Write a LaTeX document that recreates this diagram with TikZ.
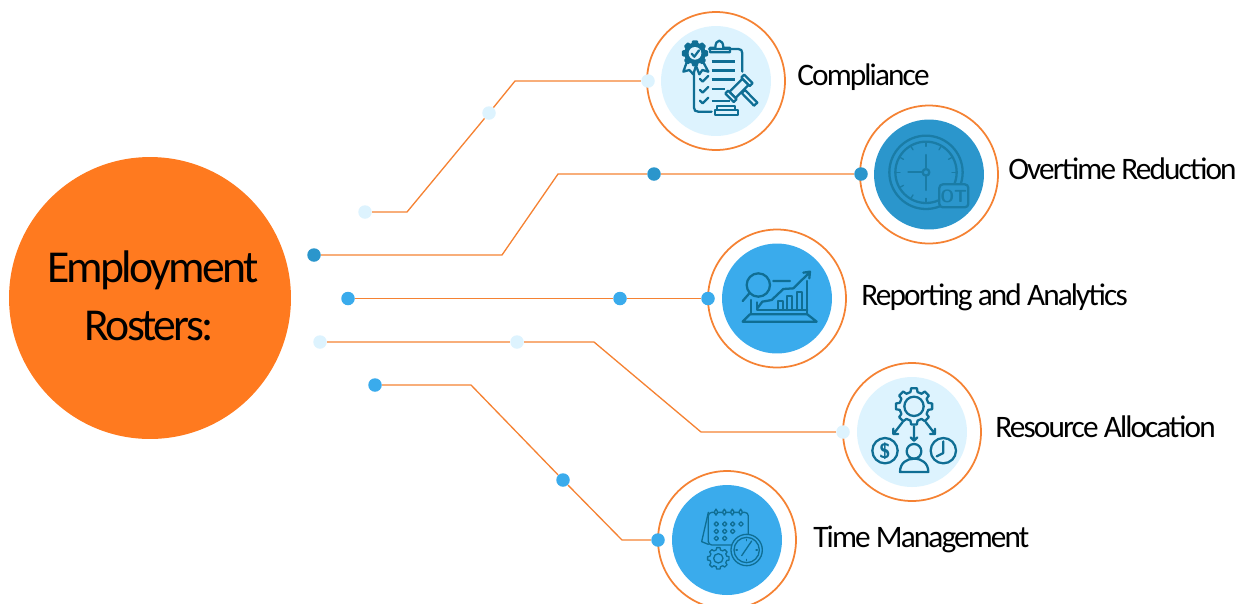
\documentclass[tikz,border=0pt]{standalone}
\usepackage{fontspec}
\setmainfont[LetterSpace=-6]{Carlito}
\usetikzlibrary{positioning}
\definecolor{hub}{HTML}{FF7A1F}
\definecolor{wirec}{HTML}{F58233}
\definecolor{pale}{HTML}{DDF3FE}
\definecolor{sky}{HTML}{3AABEC}
\definecolor{deep}{HTML}{2B96CC}
\definecolor{teal}{HTML}{0F6E94}
\definecolor{tealb}{HTML}{1A7CA6}
\newcommand{\cogpath}[3]{% centre x, centre y, radius
	({#1+#3*cos(-14)},{#2+#3*sin(-14)}) \foreach \a in {0,45,...,315} {
		-- ({#1+1.25*#3*cos(\a-9)},{#2+1.25*#3*sin(\a-9)}) -- ({#1+1.25*#3*cos(\a+9)},{#2+1.25*#3*sin(\a+9)})
		-- ({#1+#3*cos(\a+14)},{#2+#3*sin(\a+14)}) -- ({#1+#3*cos(\a+31)},{#2+#3*sin(\a+31)})} -- cycle}
\begin{document}
\begin{tikzpicture}[x=0.02cm, y=-0.02cm,
	ring/.style={circle, draw=wirec, line width=1pt, fill=white, minimum size=2.76cm, inner sep=0},
	disc/.style={circle, fill=#1, minimum size=2.2cm, inner sep=0},
	dot/.style={circle, fill=#1, minimum size=0.27cm, inner sep=0},
	wire/.style={draw=wirec, line width=0.75pt},
	lbl/.style={anchor=base west, font=\fontsize{17.8}{20}\selectfont, text=black, inner sep=0},
	ico/.style={draw=teal, line width=1.3pt, line cap=round, line join=round},
	thin ico/.style={draw=tealb, line width=0.75pt, line cap=round, line join=round},
	zoomed/.style={x=0.00667cm, y=-0.00667cm}]
	\clip (0,0) rectangle (1241,603);
	\node[circle, fill=hub, minimum size=5.64cm, inner sep=0] (E) at (150,298) {};
	\node[anchor=base, font=\fontsize{26}{30}\selectfont, inner sep=0] (E1) at (153,282) {Employment};
	\node[anchor=base, font=\fontsize{26}{30}\selectfont, inner sep=0] (E2) at (149,340) {Rosters:};
	% rings
	\node[ring] (R1) at (716,81) {}; \node[disc=pale] (C1) at (R1) {};
	\node[ring] (R2) at (929,174.5) {}; \node[disc=deep] (C2) at (R2) {};
	\node[ring] (R3) at (777,298.5) {}; \node[disc=sky] (C3) at (R3) {};
	\node[ring] (R4) at (912,432) {}; \node[disc=pale] (C4) at (R4) {};
	\node[ring] (R5) at (727,540) {}; \node[disc=sky] (C5) at (R5) {};
	% dots
	\node[dot=pale] (A1) at (365,212) {}; \node[dot=pale] (M1) at (489,113) {}; \node[dot=pale] (B1) at (648,81) {};
	\node[dot=deep] (A2) at (314,255) {}; \node[dot=deep] (M2) at (654,174) {}; \node[dot=deep] (B2) at (861,174) {};
	\node[dot=sky] (A3) at (348,298.5) {}; \node[dot=sky] (M3) at (620,298.5) {}; \node[dot=sky] (B3) at (708,298.5) {};
	\node[dot=pale] (A4) at (320,342) {}; \node[dot=pale] (M4) at (517,342) {}; \node[dot=pale] (B4) at (843,432) {};
	\node[dot=sky] (A5) at (375,385) {}; \node[dot=sky] (M5) at (563,480) {}; \node[dot=sky] (B5) at (658,540) {};
	% bends
	\coordinate (K1) at (407,212); \coordinate (L1) at (515,81);
	\coordinate (K2) at (502,255); \coordinate (L2) at (558,174);
	\coordinate (K4) at (594,342); \coordinate (L4) at (701,432);
	\coordinate (K5) at (471,385); \coordinate (L5) at (622,540);
	\draw[wire] (A1) -- (K1) -- (M1) -- (L1) -- (B1);
	\draw[wire] (A2) -- (K2) -- (L2) -- (M2) -- (B2);
	\draw[wire] (A3) -- (M3) -- (B3);
	\draw[wire] (A4) -- (M4) -- (K4) -- (L4) -- (B4);
	\draw[wire] (A5) -- (K5) -- (M5) -- (L5) -- (B5);
	% labels
	\node[lbl] (T1) at (797,85.5) {Compliance};
	\node[lbl] (T2) at (1008,179.5) {Overtime Reduction};
	\node[lbl] (T3) at (861,305) {Reporting and Analytics};
	\node[lbl] (T4) at (995,437) {Resource Allocation};
	\node[lbl] (T5) at (813,547) {Time Management};
	% clipboard and gavel
	\begin{scope}[shift={(640,5)}, zoomed]
		\draw[ico] (162,205) -- (162,308) .. controls (162,316) and (166,320) .. (175,320) -- (215,320);
		\draw[ico] (207,132) -- (295,132) .. controls (303,132) and (307,136) .. (307,145) -- (307,200);
		\draw[ico] (210,142) -- (270,142) -- (270,128) -- (250,128) .. controls (250,100) and (226,100) .. (226,128) -- (210,128) -- cycle;
		\foreach \y in {170,197,223} \draw[ico, line width=1.6pt, line cap=butt] (215,\y) -- (285,\y);
		\draw[ico, line cap=butt] (215,253) -- (255,253); \draw[ico, line cap=butt] (215,287) -- (270,287);
		\foreach \y in {225,258,290} \draw[ico] (180,\y-3) -- (188,\y+5) -- (205,\y-12);
		\draw[ico] (140,172) -- (130,200) -- (148,195) -- (160,208) -- (168,182);
		\draw[ico] (190,172) -- (205,200) -- (187,195) -- (178,208) -- (168,182);
		\draw[ico, fill=teal] \cogpath{165}{145}{29};
		\draw[fill=pale, draw=none] (165,145) circle (19);
		\draw[ico] (155,146) -- (163,155) -- (177,136);
		\draw[ico, fill=pale] (305,264) -- (342,302) -- (352,293) -- (315,255) -- cycle;
		\begin{scope}[rotate around={45:(297,250)}]
			\draw[ico, fill=pale] (269,237) rectangle (325,263);
			\draw[ico, fill=pale] (257,232) rectangle (269,268);
			\draw[ico, fill=pale] (325,232) rectangle (337,268);
		\end{scope}
		\draw[ico, fill=pale] (232,302) rectangle (285,315); \draw[ico, fill=pale] (225,315) rectangle (295,330);
	\end{scope}
	% overtime clock
	\begin{scope}[shift={(855,100)}, zoomed]
		\draw[ico, draw=tealb] (213,217) circle (110) (213,217) circle (92) (213,217) circle (10);
		\draw[ico, draw=tealb] (213,207) -- (213,165) (213,227) -- (213,270) (203,217) -- (160,217);
		\foreach \a in {0,30,...,330} \draw[thin ico] ({213+78*cos(\a)},{217+78*sin(\a)}) -- ({213+92*cos(\a)},{217+92*sin(\a)});
		\draw[ico, draw=tealb, fill=deep, rounded corners=2pt] (253,253) rectangle (340,322);
		\node[text=tealb, font=\sffamily\bfseries\fontsize{10}{10}\selectfont, inner sep=0] (OT) at (296,288) {OT};
	\end{scope}
	% analytics laptop
	\begin{scope}[shift={(700,225)}, zoomed]
		\draw[ico] (175,180) circle (35) (148,205) -- (128,228) (220,168) -- (270,168);
		\draw[ico] (153,225) -- (153,268) (322,168) -- (322,268) (170,232) -- (170,255) -- (322,255);
		\draw[ico] (150,268) -- (322,268) -- (350,290) -- (128,290) -- cycle;
		\draw[ico] (172,250) -- (187,230) -- (215,225) -- (250,192) -- (280,190) -- (328,143) (310,143) -- (330,140) -- (328,160);
		\draw[ico] (233,255) -- (233,228) -- (248,228) -- (248,255) (262,255) -- (262,213) -- (277,213) -- (277,255) (290,255) -- (290,200) -- (305,200) -- (305,255);
	\end{scope}
	% allocation gear
	\begin{scope}[shift={(835,358)}, zoomed]
		\draw[ico] \cogpath{237}{145}{44}; \draw[ico] (237,145) circle (29);
		\draw[ico] (203,192) -- (175,228) (175,212) -- (175,228) -- (190,228);
		\draw[ico] (237,205) -- (237,248) (227,238) -- (237,248) -- (247,238);
		\draw[ico] (272,192) -- (300,228) (300,212) -- (300,228) -- (285,228);
		\draw[ico] (150,278) circle (38) (325,278) circle (38) (325,285) -- (325,250) (325,285) -- (305,295);
		\node[text=teal, font=\sffamily\bfseries\fontsize{12}{12}\selectfont, inner sep=0] (Dol) at (150,280) {\$};
		\draw[ico] (237,280) circle (22);
		\draw[ico] (195,342) .. controls (195,315) and (215,302) .. (237,302) .. controls (260,302) and (280,315) .. (280,342) -- cycle;
	\end{scope}
	% calendar and watch
	\begin{scope}[shift={(650,465)}, zoomed]
		\draw[thin ico, draw=teal, rounded corners=2pt] (175,142) rectangle (295,240);
		\draw[thin ico, draw=teal] (175,142) -- (155,230) -- (175,238);
		\foreach \x in {198,223,247,272} \draw[thin ico, draw=teal, fill=sky, rounded corners=1pt] (\x-4,133) rectangle (\x+4,150);
		\foreach \x/\y in {199/177,224/177,248/177,273/177,199/199,224/199,248/199,199/220,224/220}
			\draw[thin ico, draw=teal, rounded corners=1pt] (\x-6,\y-6) rectangle (\x+6,\y+6);
		\draw[thin ico, draw=teal, fill=sky] (290,255) circle (47) (290,255) circle (38);
		\draw[thin ico, draw=teal] (275,272) -- (305,228);
		\foreach \a in {0,90,180,270} \draw[thin ico, draw=teal] ({290+28*cos(\a)},{255+28*sin(\a)}) -- ({290+32*cos(\a)},{255+32*sin(\a)});
		\draw[thin ico, draw=teal, fill=sky] \cogpath{205}{280}{26}; \draw[thin ico, draw=teal] (205,280) circle (14);
	\end{scope}
\end{tikzpicture}
\end{document}
